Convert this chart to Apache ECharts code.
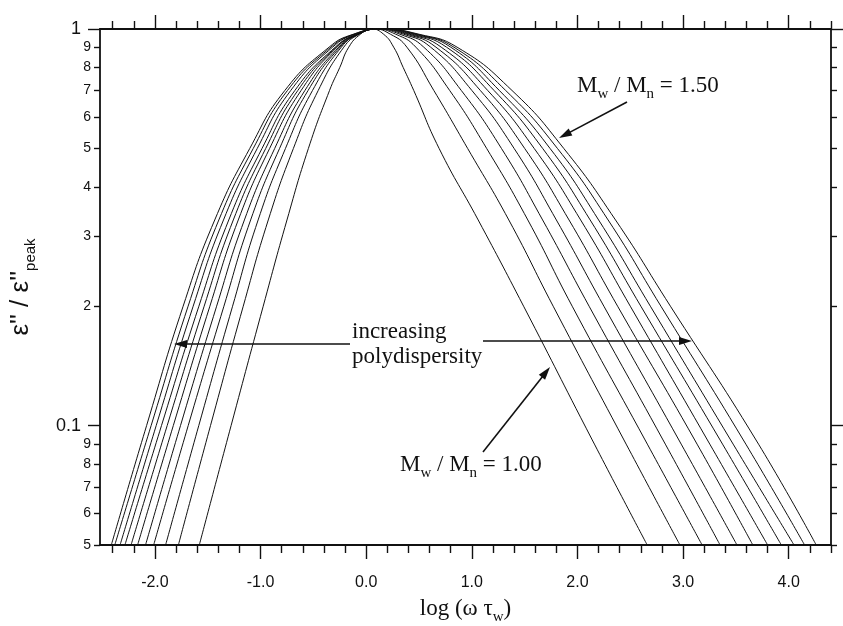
<!DOCTYPE html>
<html>
<head>
<meta charset="utf-8">
<script src="https://cdn.jsdelivr.net/npm/echarts@6/dist/echarts.min.js"></script>
<style>html,body{margin:0;padding:0;background:#fff}#c{width:843px;height:626px}</style>
</head>
<body>
<div id="c"></div>
<script>
// ---- data: [log(ω τw), ε''/ε''peak] ----
const ratios = ['1.00','1.05','1.10','1.15','1.20','1.25','1.30','1.35','1.40','1.45','1.50'];
const curve100 = [[-1.58,0.05],[-1.279,0.1],[-0.975,0.2],[-0.75,0.33],[-0.547,0.5],[-0.347,0.7],[-0.25,0.8],[-0.165,0.9],[-0.055,0.97],[0.05,1],[0.165,0.97],[0.26,0.9],[0.35,0.8],[0.45,0.7],[0.69,0.5],[1.06,0.33],[1.49,0.2],[2.14,0.092],[2.66,0.05]];
const curve105 = [[-1.778,0.05],[-1.474,0.1],[-1.164,0.2],[-0.927,0.33],[-0.689,0.5],[-0.454,0.7],[-0.212,0.9],[-0.069,0.97],[0.075,1],[0.23,0.97],[0.385,0.9],[0.64,0.7],[0.96,0.5],[1.35,0.33],[1.77,0.2],[2.44,0.092],[2.97,0.05]];
const curve110 = [[-1.899,0.05],[-1.585,0.1],[-1.265,0.2],[-1.023,0.33],[-0.764,0.5],[-0.508,0.7],[-0.235,0.9],[-0.078,0.97],[0.085,1],[0.28,0.97],[0.47,0.9],[0.79,0.7],[1.14,0.5],[1.53,0.33],[1.95,0.2],[2.64,0.092],[3.18,0.05]];
const curve115 = [[-2.012,0.05],[-1.685,0.1],[-1.347,0.2],[-1.094,0.33],[-0.82,0.5],[-0.55,0.7],[-0.247,0.9],[-0.073,0.97],[0.10,1],[0.32,0.97],[0.545,0.9],[0.90,0.7],[1.28,0.5],[1.67,0.33],[2.11,0.2],[2.81,0.092],[3.35,0.05]];
const curve120 = [[-2.089,0.05],[-1.758,0.1],[-1.416,0.2],[-1.153,0.33],[-0.866,0.5],[-0.58,0.7],[-0.259,0.9],[-0.076,0.97],[0.11,1],[0.355,0.97],[0.61,0.9],[1.00,0.7],[1.40,0.5],[1.80,0.33],[2.25,0.2],[2.96,0.092],[3.51,0.05]];
const curve125 = [[-2.164,0.05],[-1.826,0.1],[-1.48,0.2],[-1.211,0.33],[-0.914,0.5],[-0.616,0.7],[-0.275,0.9],[-0.081,0.97],[0.12,1],[0.385,0.97],[0.66,0.9],[1.08,0.7],[1.50,0.5],[1.92,0.33],[2.38,0.2],[3.11,0.092],[3.66,0.05]];
const curve130 = [[-2.226,0.05],[-1.884,0.1],[-1.534,0.2],[-1.258,0.33],[-0.951,0.5],[-0.647,0.7],[-0.284,0.9],[-0.084,0.97],[0.125,1],[0.41,0.97],[0.71,0.9],[1.15,0.7],[1.59,0.5],[2.03,0.33],[2.50,0.2],[3.23,0.092],[3.80,0.05]];
const curve135 = [[-2.284,0.05],[-1.938,0.1],[-1.584,0.2],[-1.301,0.33],[-0.986,0.5],[-0.675,0.7],[-0.293,0.9],[-0.087,0.97],[0.13,1],[0.435,0.97],[0.76,0.9],[1.21,0.7],[1.67,0.5],[2.12,0.33],[2.60,0.2],[3.35,0.092],[3.93,0.05]];
const curve140 = [[-2.33,0.05],[-1.988,0.1],[-1.638,0.2],[-1.351,0.33],[-1.031,0.5],[-0.714,0.7],[-0.318,0.9],[-0.105,0.97],[0.135,1],[0.46,0.97],[0.80,0.9],[1.26,0.7],[1.74,0.5],[2.20,0.33],[2.69,0.2],[3.45,0.092],[4.05,0.05]];
const curve145 = [[-2.38,0.05],[-2.036,0.1],[-1.686,0.2],[-1.395,0.33],[-1.069,0.5],[-0.745,0.7],[-0.334,0.9],[-0.114,0.97],[0.14,1],[0.48,0.97],[0.83,0.9],[1.32,0.7],[1.81,0.5],[2.29,0.33],[2.79,0.2],[3.57,0.092],[4.15,0.05]];
const curve150 = [[-2.413,0.05],[-2.079,0.1],[-1.733,0.2],[-1.434,0.33],[-1.102,0.5],[-0.77,0.7],[-0.351,0.9],[-0.123,0.97],[0.145,1],[0.50,0.97],[0.86,0.9],[1.38,0.7],[1.87,0.5],[2.36,0.33],[2.88,0.2],[3.69,0.092],[4.26,0.05]];
const curves = [curve100,curve105,curve110,curve115,curve120,curve125,curve130,curve135,curve140,curve145,curve150];

// ---- ticks & tick labels ----
const xMajorTicks = [-2,-1,0,1,2,3,4];
const xTickLabels = ['-2.0','-1.0','0.0','1.0','2.0','3.0','4.0'];
const xMinorTicks = [-2.4,-2.2,-1.8,-1.6,-1.4,-1.2,-0.8,-0.6,-0.4,-0.2,0.2,0.4,0.6,0.8,1.2,1.4,1.6,1.8,2.2,2.4,2.6,2.8,3.2,3.4,3.6,3.8,4.2,4.4];
const yMajorTicks = [0.1, 1];
const yMajorLabels = ['0.1','1'];
const yMinorTicks = [0.05,0.06,0.07,0.08,0.09,0.2,0.3,0.4,0.5,0.6,0.7,0.8,0.9];
const yMinorLabels = ['5','6','7','8','9','2','3','4','5','6','7','8','9'];

const SANS = '"Liberation Sans", Arial, Helvetica, sans-serif';
const SERIF = '"Liberation Serif", "Times New Roman", serif';
const INK = '#111';

const lg = v => Math.log10(v);
const findLabel = (ticks, labels, v, tf) => {
  const i = ticks.findIndex(t => Math.abs(tf(t) - v) < 1e-6);
  return i >= 0 ? labels[i] : '';
};

const X_MIN = -2.52, X_MAX = 4.4;
const Y_MIN = 0.05, Y_MAX = 1;

function xAx(pos, ticks, len, showLine, withLabels) {
  return {
    type: 'value', min: X_MIN, max: X_MAX, position: pos,
    axisLine: { show: showLine, onZero: false, lineStyle: { color: INK, width: 1.8 } },
    axisTick: { show: true, inside: false, length: len, customValues: ticks, lineStyle: { color: INK, width: 1.4 } },
    axisLabel: withLabels ? {
      show: true, customValues: ticks, margin: 30, color: INK, fontSize: 16, fontFamily: SANS,
      formatter: v => findLabel(xMajorTicks, xTickLabels, v, t => t)
    } : { show: false },
    splitLine: { show: false }
  };
}
function yAx(pos, ticks, labels, len, showLine, withLabels, fs, margin) {
  const lv = ticks.map(lg);
  return {
    type: 'value', min: lg(Y_MIN), max: lg(Y_MAX), position: pos,
    axisLine: { show: showLine, onZero: false, lineStyle: { color: INK, width: 1.8 } },
    axisTick: { show: true, inside: false, length: len, customValues: lv, lineStyle: { color: INK, width: 1.4 } },
    axisLabel: withLabels ? {
      show: true, customValues: lv, margin: margin, color: INK, fontSize: fs, fontFamily: SANS,
      formatter: v => findLabel(ticks, labels, v, lg)
    } : { show: false },
    splitLine: { show: false }
  };
}

const xAxes = [
  Object.assign(xAx('bottom', xMajorTicks, 14, true, true), {
    name: '{m|log (ω τ}{s|w}{m|)}', nameLocation: 'middle', nameGap: 52,
    nameTextStyle: {
      rich: {
        m: { fontFamily: SERIF, fontSize: 23, color: INK, lineHeight: 28, verticalAlign: 'top' },
        s: { fontFamily: SERIF, fontSize: 15, color: INK, lineHeight: 12, verticalAlign: 'bottom' }
      }
    }
  }),
  xAx('bottom', xMinorTicks, 8, false, false),
  xAx('top', xMajorTicks, 14, true, false),
  xAx('top', xMinorTicks, 8, false, false)
];

const yAxes = [
  {
    type: 'log', logBase: 10, min: Y_MIN, max: Y_MAX, position: 'left',
    axisLine: { show: true, onZero: false, lineStyle: { color: INK, width: 1.8 } },
    axisTick: { show: false }, axisLabel: { show: false }, splitLine: { show: false },
    minorTick: { show: false }, minorSplitLine: { show: false },
    name: "{m|ε'' / ε''}{s|peak}", nameLocation: 'middle', nameRotate: 90, nameGap: 62,
    nameTextStyle: {
      rich: {
        m: { fontFamily: SANS, fontSize: 26, color: INK, lineHeight: 30, verticalAlign: 'top' },
        s: { fontFamily: SANS, fontSize: 15, color: INK, lineHeight: 12, verticalAlign: 'bottom' }
      }
    }
  },
  yAx('left', yMajorTicks, yMajorLabels, 12, false, true, 18, 19),
  yAx('left', yMinorTicks, yMinorLabels, 6, false, true, 14, 9),
  yAx('right', yMajorTicks, yMajorLabels, 12, true, false, 14, 8),
  yAx('right', yMinorTicks, yMinorLabels, 6, false, false, 14, 8)
];

const series = curves.map((c, i) => ({
  name: 'Mw/Mn = ' + ratios[i],
  type: 'line', xAxisIndex: 0, yAxisIndex: 0,
  data: c, smooth: 0.5, symbol: 'none', showSymbol: false, clip: true, silent: true,
  lineStyle: { color: INK, width: 1 }
}));

// ---- annotations (pixel layout) ----
function arrow(x1, y1, x2, y2) {
  const dx = x2 - x1, dy = y2 - y1, L = Math.hypot(dx, dy), ux = dx / L, uy = dy / L;
  const hl = 13, hw = 4;
  const bx = x2 - ux * hl, by = y2 - uy * hl;
  return [
    { type: 'line', silent: true, shape: { x1: x1, y1: y1, x2: bx + ux * 2, y2: by + uy * 2 }, style: { stroke: INK, lineWidth: 1.6 } },
    { type: 'polygon', silent: true, shape: { points: [[x2, y2], [bx - uy * hw, by + ux * hw], [bx + uy * hw, by - ux * hw]] }, style: { fill: INK } }
  ];
}
const richM = {
  m: { fontFamily: SERIF, fontSize: 23, fill: INK, lineHeight: 28, verticalAlign: 'top' },
  s: { fontFamily: SERIF, fontSize: 15, fill: INK, lineHeight: 12, verticalAlign: 'bottom' }
};
const graphics = [].concat(
  [{ type: 'text', silent: true, x: 577, y: 74, style: { text: '{m|M}{s|w}{m| / M}{s|n}{m| = 1.50}', rich: richM } }],
  arrow(627, 102, 559, 138),
  [{ type: 'text', silent: true, x: 352, y: 332, style: { text: 'increasing', font: '23px ' + SERIF, fill: INK, verticalAlign: 'middle', textVerticalAlign: 'middle' } }],
  [{ type: 'text', silent: true, x: 352, y: 357, style: { text: 'polydispersity', font: '23px ' + SERIF, fill: INK, verticalAlign: 'middle', textVerticalAlign: 'middle' } }],
  arrow(350, 344, 174, 344),
  arrow(483, 341, 692, 341),
  [{ type: 'text', silent: true, x: 400, y: 453, style: { text: '{m|M}{s|w}{m| / M}{s|n}{m| = 1.00}', rich: richM } }],
  arrow(483, 452, 550, 367)
);

const chart = echarts.init(document.getElementById('c'), null, { renderer: 'canvas' });
chart.setOption({
  animation: false,
  backgroundColor: '#fff',
  grid: { left: 100, right: 12, top: 29, bottom: 81, containLabel: false, outerBoundsMode: 'none' },
  xAxis: xAxes,
  yAxis: yAxes,
  series: series,
  graphic: graphics
});
</script>
</body>
</html>
